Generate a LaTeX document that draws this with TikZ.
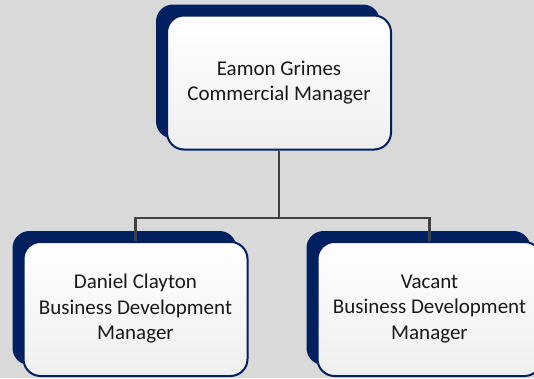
\documentclass[tikz,border=0pt]{standalone}
\usepackage{fontspec}
\setmainfont{Carlito}
\usetikzlibrary{shadows}
\definecolor{navy}{HTML}{002060}
\definecolor{bg}{HTML}{D9D9D9}
\definecolor{lnk}{HTML}{404040}
\definecolor{boxbot}{HTML}{EFEFEF}
\begin{document}
\begin{tikzpicture}[x=1pt,y=-1pt,
  card/.style={draw=navy, line width=2pt, rounded corners=17pt,
    top color=white, bottom color=boxbot,
    minimum width=224pt, minimum height=134pt, inner sep=0pt,
    align=center, text=black!90, font=\fontsize{21}{25.5}\selectfont,
    drop shadow={shadow xshift=-11pt, shadow yshift=11pt, fill=navy, opacity=1}},
  link/.style={draw=lnk, line width=2.2pt}]
\useasboundingbox (0,0) rectangle (534,378);
\clip (0,0) rectangle (534,378);
\fill[bg] (0,0) rectangle (534,378);
\node[card] (top) at (279,82.5) {Eamon Grimes\\Commercial Manager};
\node[card] (left) at (135.5,309) {Daniel Clayton\\Business Development\\Manager};
\node[card] (right) at (429.5,309) {Vacant\\Business Development\\Manager};
\draw[link] (top.south) -- (top.south |- 0,218) coordinate (mid);
\draw[link] (left.north) -- (left.north |- mid) -- (right.north |- mid) -- (right.north);
\end{tikzpicture}
\end{document}
